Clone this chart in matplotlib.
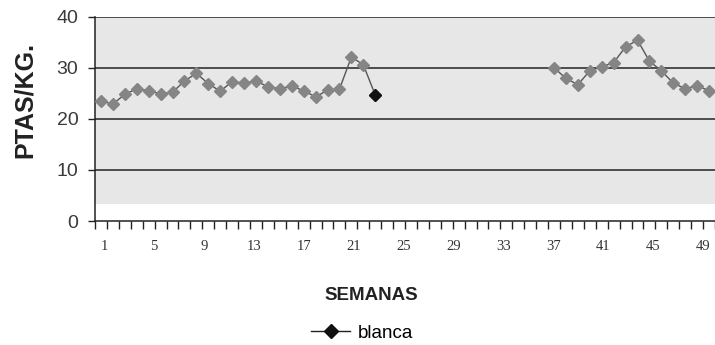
"""
Weekly price of 'blanca' (PTAS/KG.) - scanned Excel line chart, weeks 1-52.
"""

import numpy as np
import matplotlib
matplotlib.use("Agg")
import matplotlib.pyplot as plt
from matplotlib.lines import Line2D


# ---------------------------------------------------------------------------
# Data
# ---------------------------------------------------------------------------
WEEKS_A = list(range(1, 25))
PRICE_A = [23.5, 22.9, 24.8, 25.9, 25.5, 24.9, 25.2, 27.4, 28.9, 26.9,
           25.4, 27.3, 27.0, 27.4, 26.3, 25.9, 26.4, 25.5, 24.3, 25.6,
           25.8, 32.1, 30.6, 24.7]

WEEKS_B = list(range(39, 53))
PRICE_B = [30.0, 27.9, 26.7, 29.4, 30.2, 31.0, 34.1, 35.4, 31.3, 29.4,
           27.0, 25.9, 26.5, 25.5]

TICK_WEEKS  = list(range(1, 50, 4))
TICK_LABELS = [str(w) for w in TICK_WEEKS]
Y_TICKS     = [0, 10, 20, 30, 40]

SERIES_NAME = "blanca"


# ---------------------------------------------------------------------------
# Figure
# ---------------------------------------------------------------------------
C_LINE   = "#555555"
C_MARK   = "#858585"
C_DARK   = "#222222"
C_PANEL  = "#e7e7e7"

fig = plt.figure(figsize=(7.15, 3.45), dpi=100, facecolor="white")
ax = fig.add_axes([0.1329, 0.3594, 0.8671, 0.5923], facecolor="white")

ax.set_xlim(0.5, 52.17)
ax.set_ylim(0, 40)

# grey plot area of the print
ax.axhspan(3.3, 40, color=C_PANEL, zorder=0, lw=0)

for v in Y_TICKS[1:]:
    ax.axhline(v, color=C_DARK, lw=1.1, zorder=1)

ax.plot(WEEKS_A, PRICE_A, color=C_LINE, lw=1.0, marker="D", ms=6.3,
        mfc=C_MARK, mec=C_MARK, zorder=3)
ax.plot(WEEKS_A[-1:], PRICE_A[-1:], ls="none", marker="D", ms=6.3,
        mfc="#111111", mec="#111111", zorder=4)
ax.plot(WEEKS_B, PRICE_B, color=C_LINE, lw=1.0, marker="D", ms=6.3,
        mfc=C_MARK, mec=C_MARK, zorder=3)

# spines
for side in ("top", "right"):
    ax.spines[side].set_visible(False)
for side in ("left", "bottom"):
    ax.spines[side].set_color(C_DARK)
    ax.spines[side].set_linewidth(1.1)

# y axis
ax.set_yticks(Y_TICKS)
ax.set_yticklabels([str(v) for v in Y_TICKS], fontsize=14,
                   family="Liberation Sans", color="#3a3a3a")
ax.tick_params(axis="y", length=5, width=1, color=C_DARK, pad=7)

# x axis: a small tick between every week, labels every 4 weeks
# (in the print the labels are spread slightly wider than the categories)
LABEL_STRETCH = 1.047
ax.set_xticks(np.arange(0.5, 53, 1.0), minor=True)
ax.set_xticks([1.25 + (w - 1) * LABEL_STRETCH for w in TICK_WEEKS])
ax.set_xticklabels(TICK_LABELS, fontsize=10.5, family="Liberation Serif",
                   color="#333333")
ax.tick_params(axis="x", which="major", length=0, pad=14)
ax.tick_params(axis="x", which="minor", length=6, width=1, color=C_DARK)

# titles
fig.text(25 / 715, 1 - 100 / 345, "PTAS/KG.", rotation=90, ha="center",
         va="center", fontsize=18, fontweight="bold", family="Liberation Sans",
         color="#222222")
fig.text(371 / 715, 1 - 295 / 345, "SEMANAS", ha="center", va="center",
         fontsize=13.5, fontweight="bold", family="Liberation Sans",
         color="#222222")

handle = Line2D([], [], color=C_DARK, lw=1.0, marker="D", ms=7,
                mfc="#111111", mec="#111111")
fig.legend([handle], [SERIES_NAME], loc="center",
           bbox_to_anchor=(362 / 715, 1 - 333 / 345), frameon=False,
           handlelength=2.1, handletextpad=0.4,
           prop={"family": "Liberation Sans", "size": 13.5})

fig.savefig("out.png", dpi=100, facecolor="white")
